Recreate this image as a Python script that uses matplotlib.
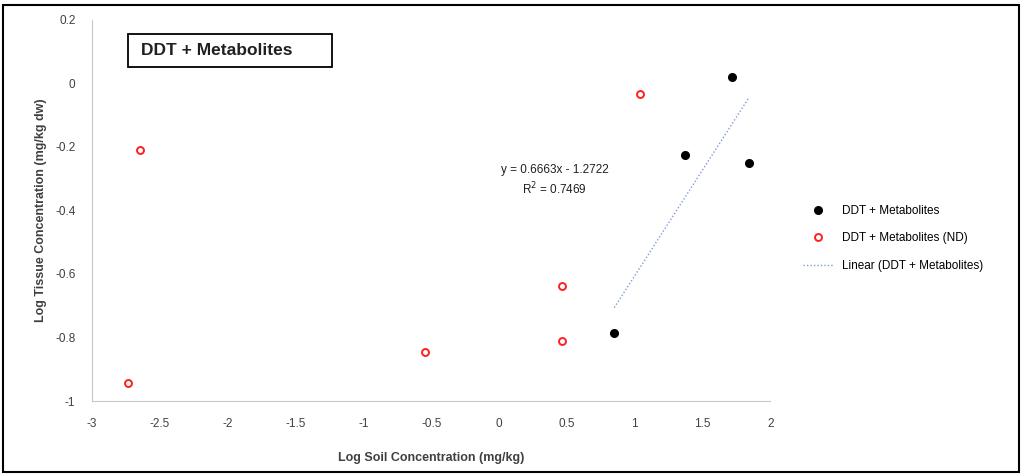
import numpy as np
import matplotlib.pyplot as plt
from matplotlib.patches import Rectangle

plt.rcParams['font.family'] = ['Liberation Sans', 'DejaVu Sans']

# detected samples
det_x = [1.72, 1.37, 1.845, 0.85]
det_y = [0.02, -0.225, -0.25, -0.786]

# non-detect samples
nd_x = [-2.646, 1.04, 0.466, 0.466, -0.544, -2.735]
nd_y = [-0.209, -0.033, -0.638, -0.811, -0.846, -0.943]

slope = 0.6663
intercept = -1.2722
r2 = 0.7469

x_ticks = [-3, -2.5, -2, -1.5, -1, -0.5, 0, 0.5, 1, 1.5, 2]
x_tick_labels = ["-3", "-2.5", "-2", "-1.5", "-1", "-0.5", "0", "0.5", "1", "1.5", "2"]
y_ticks = [-1, -0.8, -0.6, -0.4, -0.2, 0, 0.2]
y_tick_labels = ["-1", "-0.8", "-0.6", "-0.4", "-0.2", "0", "0.2"]


def main():
    fig = plt.figure(figsize=(10.23, 4.74), dpi=100)
    ax = fig.add_axes([0.09, 0.154, 0.663, 0.804])

    ax.plot(det_x, det_y, "o", color="black", markersize=5.5, label="DDT + Metabolites")
    ax.plot(nd_x, nd_y, "o", markerfacecolor="white", markeredgecolor="#ff2020",
            markeredgewidth=1.4, markersize=5, label="DDT + Metabolites (ND)")

    fit_x = np.array([min(det_x), max(det_x)])
    ax.plot(fit_x, slope * fit_x + intercept, linestyle=(0, (1, 1.5)), color="#7d9bd6",
            linewidth=1, label="Linear (DDT + Metabolites)")

    ax.set_xlim(-3, 2)
    ax.set_ylim(-1, 0.2)
    ax.set_xticks(x_ticks)
    ax.set_xticklabels(x_tick_labels)
    ax.set_yticks(y_ticks)
    ax.set_yticklabels(y_tick_labels)
    ax.tick_params(length=0, labelsize=8.5, colors="#404040", pad=12)
    for side in ["top", "right"]:
        ax.spines[side].set_visible(False)
    for side in ["left", "bottom"]:
        ax.spines[side].set_color("#c8c8c8")

    ax.set_xlabel("Log Soil Concentration (mg/kg)", fontsize=9, fontweight="bold",
                  color="#404040", labelpad=16)
    ax.set_ylabel("Log Tissue Concentration (mg/kg dw)", fontsize=9, fontweight="bold",
                  color="#404040", labelpad=6)

    ax.text(0.41, -0.255, "y = %.4fx - %.4f\nR$^2$ = %.4f" % (slope, -intercept, r2),
            ha="center", va="top", fontsize=8.5, color="#202020", linespacing=1.3)

    # title box
    fig.patches.append(Rectangle((0.125, 0.8586), 0.1994, 0.0696, transform=fig.transFigure,
                                 facecolor="white", edgecolor="black", linewidth=1.3))
    fig.text(0.138, 0.8934, "DDT + Metabolites", ha="left", va="center", fontsize=12.5,
             fontweight="bold", color="#202020")

    fig.legend(loc="center left", bbox_to_anchor=(0.775, 0.497), frameon=False,
               fontsize=8.5, handlelength=2.5, labelspacing=1.3, handletextpad=0.8)

    fig.patches.append(Rectangle((0.003, 0.005), 0.993, 0.985, transform=fig.transFigure,
                                 fill=False, edgecolor="black", linewidth=1.5))

    fig.savefig("out.png", dpi=100)


if __name__ == "__main__":
    main()
